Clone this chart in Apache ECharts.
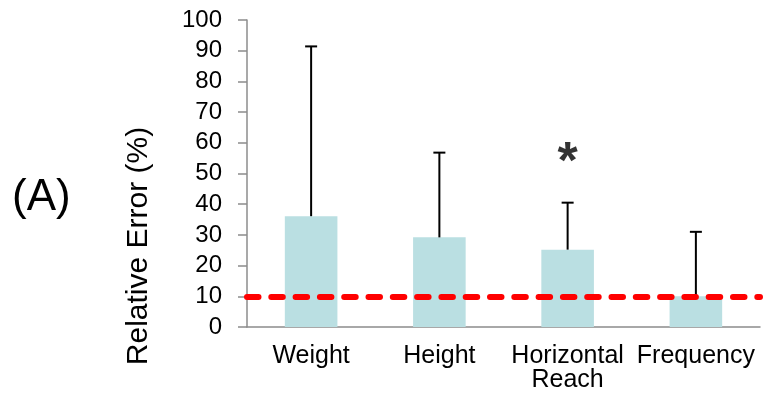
<!DOCTYPE html>
<html>
<head>
<meta charset="utf-8">
<script src="https://cdn.jsdelivr.net/npm/echarts@6/dist/echarts.min.js"></script>
<style>html,body{margin:0;padding:0;background:#fff}#c{width:763px;height:404px}</style>
</head>
<body>
<div id="c"></div>
<script>
var categories = ['Weight', 'Height', 'Horizontal\nReach', 'Frequency'];
var meanError = [36.1, 29.2, 25.2, 10.0];
var upperError = [91.4, 56.8, 40.5, 31.0];
var yTicks = [0, 10, 20, 30, 40, 50, 60, 70, 80, 90, 100];
var thresholdValue = 10;
var significance = [null, null, '*', null];
var starValue = 57;
var yTitle = 'Relative Error (%)';
var panelLabel = '(A)';

var chart = echarts.init(document.getElementById('c'));
var FONT = '"Liberation Sans", Arial, sans-serif';

chart.setOption({
  animation: false,
  backgroundColor: '#fff',
  grid: { left: 247, right: 3, top: 20, bottom: 77, containLabel: false },
  xAxis: {
    type: 'category',
    data: categories,
    axisLine: { lineStyle: { color: '#8c8c8c', width: 1.5 } },
    axisTick: { show: false },
    axisLabel: { color: '#000', fontSize: 25, fontFamily: FONT, margin: 17, lineHeight: 24, interval: 0 }
  },
  yAxis: {
    type: 'value',
    min: yTicks[0], max: yTicks[yTicks.length - 1], interval: 10,
    axisLine: { show: true, lineStyle: { color: '#8c8c8c', width: 1.5 } },
    axisTick: { show: true, length: 9, lineStyle: { color: '#8c8c8c', width: 1.5 } },
    axisLabel: { color: '#000', fontSize: 24, fontFamily: FONT, margin: 25 },
    splitLine: { show: false }
  },
  graphic: [
    {
      type: 'text', left: 12, top: 176,
      style: { text: panelLabel, fontSize: 44, fontFamily: FONT, fill: '#000' }
    },
    {
      type: 'text', x: 139, y: 246, rotation: Math.PI / 2,
      style: { text: yTitle, fontSize: 30, fontFamily: FONT, fill: '#000', align: 'center', verticalAlign: 'middle' }
    }
  ],
  series: [
    {
      type: 'bar',
      data: meanError,
      barWidth: '41%',
      itemStyle: { color: '#BADFE2' },
      z: 2,
      markLine: {
        silent: true,
        symbol: 'none',
        label: { show: false },
        lineStyle: { color: '#FF0000', width: 6, type: [11.5, 12.8], cap: 'round' },
        data: [{ yAxis: thresholdValue }]
      }
    },
    {
      type: 'custom',
      z: 3,
      data: upperError.map(function (u, i) { return [i, meanError[i], u]; }),
      renderItem: function (params, api) {
        var i = api.value(0);
        var lo = api.coord([i, api.value(1)]);
        var hi = api.coord([i, api.value(2)]);
        var half = 6;
        return {
          type: 'group',
          children: [
            { type: 'line', shape: { x1: lo[0], y1: lo[1], x2: hi[0], y2: hi[1] }, style: { stroke: '#000', lineWidth: 2 } },
            { type: 'line', shape: { x1: hi[0] - half, y1: hi[1], x2: hi[0] + half, y2: hi[1] }, style: { stroke: '#000', lineWidth: 2 } }
          ]
        };
      }
    },
    {
      type: 'scatter',
      symbolSize: 0,
      z: 4,
      data: significance.map(function (s, i) { return s ? { value: [i, starValue], name: s } : null; }).filter(function (d) { return d; }),
      label: {
        show: true, position: 'inside', formatter: '{b}',
        fontSize: 52, fontWeight: 'bold', fontFamily: FONT, color: '#000', offset: [0, 12]
      }
    }
  ]
});
</script>
</body>
</html>
